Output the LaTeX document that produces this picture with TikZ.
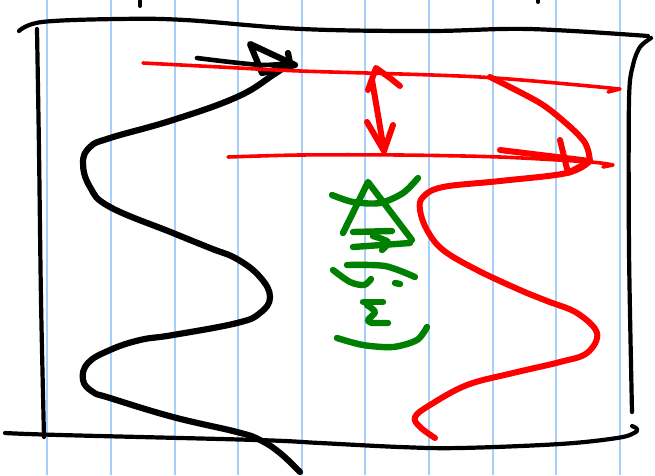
\documentclass[tikz,border=0pt]{standalone}
\usepackage{tikz}
\usetikzlibrary{calc}
\definecolor{PenRed}{HTML}{FF0000}
\definecolor{PenGreen}{HTML}{008000}
\definecolor{RuleBlue}{HTML}{A6CFFA}
\begin{document}
\begin{tikzpicture}[
  x=1pt,y=-1pt,
  rule/.style={draw=RuleBlue,line width=1.6pt},
  frame/.style={draw=black,line width=4.2pt,line cap=round,line join=round},
  inkblack/.style={draw=black,line width=6.2pt,line cap=round,line join=round},
  inkred/.style={draw=PenRed,line width=6pt,line cap=round,line join=round},
  thinred/.style={inkred,line width=3.6pt},
  inkgreen/.style={draw=PenGreen,line width=6.4pt,line cap=round,line join=round}
]
\useasboundingbox[fill=white] (0,0) rectangle (655,475);
\foreach \x in {47,111,175,238,302,365,429,493,556,620}
  \draw[rule] (\x,0) -- (\x,475);
\coordinate (blacktip) at (290,63);
\coordinate (redtip) at (590,161);
\coordinate (uptip) at (376,68);
\coordinate (downtip) at (384,151);
\draw[frame] plot[smooth,tension=0.6] coordinates {(19,31) (42,22) (118,19) (185,20) (302,29) (429,31) (529,29) (648,36)};
\draw[frame] plot[smooth] coordinates {(37,29) (39,150) (41,300) (44,437)};
\draw[frame] plot[smooth] coordinates {(651,38) (640,47) (633,65) (629,100) (629,250) (632,412)};
\draw[frame] plot[smooth,tension=0.6] coordinates {(5,433) (60,435) (257,440) (320,443) (400,447) (460,448) (560,444) (617,438) (634,433) (637,429) (632,426)};
\draw[inkblack,line width=4pt] (140,0) -- (140,6);
\draw[inkblack,line width=4pt] (538,0) -- (538,2);
\draw[inkblack] plot[smooth,tension=0.7] coordinates {(blacktip) (273,75) (237,97) (173,120) (110,138) (90,147) (83,163) (90,187) (110,207) (173,233) (210,248) (237,259) (260,277) (270,297) (260,313) (237,323) (173,335) (140,340) (110,350) (88,363) (83,380) (93,392) (110,398) (173,417) (237,432) (260,440) (280,453) (300,472)};
\draw[inkblack,line width=4.6pt] plot[smooth] coordinates {(197,58) (230,62) (263,65) (blacktip)};
\draw[inkblack] (250,44) -- (262,73) -- (295,65) -- cycle;
\draw[inkblack] (288,53) -- (blacktip);
\draw[thinred] plot[smooth] coordinates {(143,63) (220,67) (300,71) (480,77) (620,89)} -- (608,92);
\draw[thinred] plot[smooth] coordinates {(228,157) (300,155) (400,155) (500,157) (590,162) (613,165)} -- (603,167);
\draw[inkred] plot[smooth] coordinates {(490,77) (540,103) (568,125) (583,140) (588,150) (redtip)};
\draw[inkred] (560,140) -- (568,173) -- (redtip);
\draw[inkred] (500,150) -- (redtip);
\draw[inkred] plot[smooth,tension=0.6] coordinates {(redtip) (567,173) (500,181) (443,187) (423,197) (420,210) (427,230) (443,250) (477,270) (520,290) (547,301) (577,313) (597,333) (587,353) (560,362) (513,373) (467,385) (430,405) (415,417) (420,427) (435,438)};
\draw[inkred] plot[smooth] coordinates {(372,80) (378,115) (downtip)};
\draw[inkred] (368,90) -- (uptip) -- (390,78) -- (400,86);
\draw[inkred] (367,122) -- (downtip) -- (393,125);
\draw[inkgreen] (343,233) -- (368,182) -- (412,240);
\draw[inkgreen] plot[smooth] coordinates {(332,195) (353,202) (380,203) (403,193) (418,178)};
\draw[inkgreen] (353,232) -- (392,231);
\draw[inkgreen] (353,247) -- (410,243);
\draw[inkgreen] plot[smooth] coordinates {(373,236) (388,242) (382,250)};
\draw[inkgreen] plot[smooth] coordinates {(347,265) (385,266) (415,277)};
\draw[inkgreen] plot[smooth] coordinates {(333,270) (350,282) (364,285) (371,279)};
\draw[inkgreen] (395,283) -- (400,284);
\draw[inkgreen] (363,302) -- (383,302);
\draw[inkgreen] plot[smooth] coordinates {(367,305) (375,312) (368,320) (372,323)} -- (388,323);
\draw[inkgreen] plot[smooth] coordinates {(337,338) (363,345) (393,347) (417,340) (427,327)};
\end{tikzpicture}
\end{document}
